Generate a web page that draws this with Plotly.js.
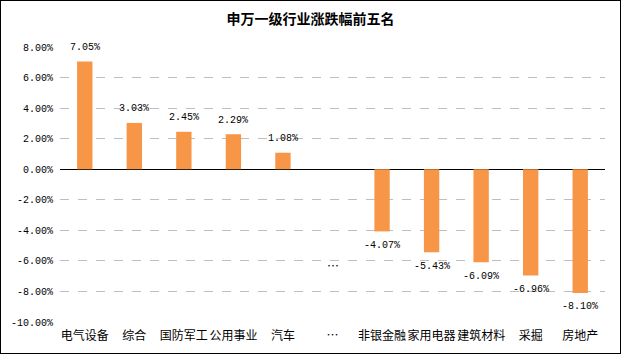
<!DOCTYPE html>
<html><head><meta charset="utf-8">
<script src="https://cdn.plot.ly/plotly-3.0.1.min.js"></script>
<style>
html,body{margin:0;padding:0;background:#fff;}
#chart{width:619px;height:352px;border:1px solid #000;}
</style></head>
<body><div id="chart"></div>
<script>
const categories = ["电气设备","综合","国防军工","公用事业","汽车","…","非银金融","家用电器","建筑材料","采掘","房地产"];
const values = [7.05, 3.03, 2.45, 2.29, 1.08, null, -4.07, -5.43, -6.09, -6.96, -8.10];
const yTicks = [8,6,4,2,0,-2,-4,-6,-8,-10];
const ellipsisLabel = "…";
const ellipsisY = -6.3;

const monoFont = "Liberation Mono, Noto Sans CJK SC, monospace";
const cjkFont = "Noto Sans CJK SC, sans-serif";

const annotations = [];
values.forEach((v, i) => {
  if (v === null) return;
  annotations.push({
    x: categories[i], y: v, xref: 'x', yref: 'y',
    text: v.toFixed(2) + '%', showarrow: false,
    yshift: v >= 0 ? 14 : -14,
    font: {family: monoFont, size: 10, color: '#000'}
  });
});
annotations.push({
  x: categories[5], y: ellipsisY, xref: 'x', yref: 'y',
  text: ellipsisLabel, showarrow: false,
  font: {family: cjkFont, size: 12, color: '#000'}
});

const trace = {
  type: 'bar', x: categories, y: values,
  marker: {color: '#F79646'},
  hoverinfo: 'none'
};

const layout = {
  width: 619, height: 352,
  margin: {l: 59, r: 15, t: 46, b: 31},
  paper_bgcolor: '#fff', plot_bgcolor: '#fff',
  bargap: 0.69,
  showlegend: false,
  title: {text: '<b>申万一级行业涨跌幅前五名</b>', x: 0.5, xanchor: 'center', y: 0.95, yanchor: 'middle',
          font: {family: cjkFont, size: 14, color: '#000'}},
  xaxis: {
    type: 'category', showgrid: false, showline: false, ticks: '',
    tickangle: 0, automargin: false, ticklabelstandoff: 5,
    tickfont: {family: cjkFont, size: 12, color: '#000'},
    zeroline: false
  },
  yaxis: {
    range: [-10, 8], tickvals: yTicks,
    ticktext: yTicks.map(t => t.toFixed(2) + '%'),
    showgrid: true, gridcolor: '#BEBEBE', griddash: 'dash', gridwidth: 1,
    zeroline: true, zerolinecolor: '#000', zerolinewidth: 1,
    showline: false, ticks: '', ticklabelstandoff: 6,
    tickfont: {family: monoFont, size: 10, color: '#000'}
  },
  annotations: annotations
};

Plotly.newPlot('chart', [trace], layout, {displayModeBar: false, staticPlot: true});
</script></body></html>
